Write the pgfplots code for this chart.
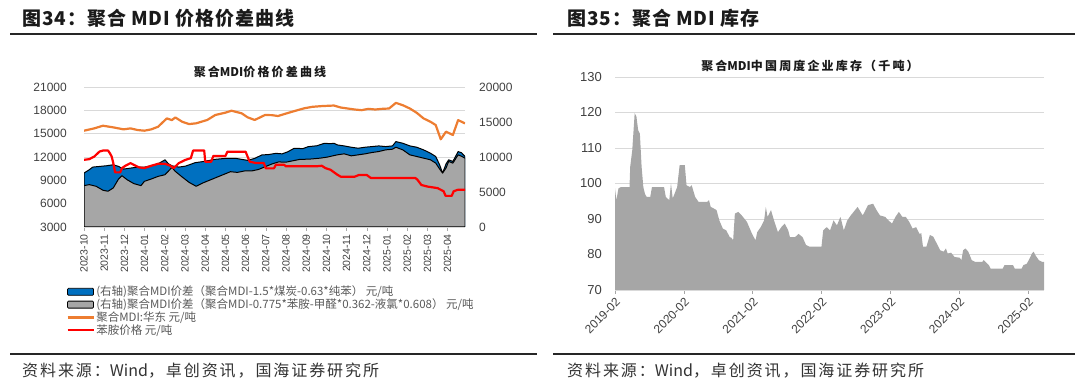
\documentclass[border=0pt]{standalone}
\usepackage{fontspec}
\usepackage{pgfplots}
\pgfplotsset{compat=1.18}
\setmainfont{Liberation Sans}
\newfontfamily\cjk{Noto Sans CJK SC}
\newfontfamily\cjkt[LetterSpace=18]{Noto Sans CJK SC}
\newfontfamily\cjkh[LetterSpace=5]{Noto Sans CJK SC}
\newfontfamily\cjks[LetterSpace=12]{Noto Sans CJK SC}
\definecolor{mblue}{HTML}{0070C0}
\definecolor{mgrey}{HTML}{A6A6A6}
\definecolor{morange}{HTML}{ED7D31}
\definecolor{gridc}{HTML}{D9D9D9}
\definecolor{tickc}{HTML}{404040}
\definecolor{legc}{HTML}{595959}
\definecolor{titc}{HTML}{1A1A1A}
\begin{document}
\begin{tikzpicture}
\path[use as bounding box] (0pt,0pt) rectangle (1080pt,391pt);
% titles and rules
\node[anchor=west, inner sep=0pt, text=titc, font=\cjkh\bfseries\fontsize{19}{19}\selectfont] at (22pt,373pt) {图34：聚合 MDI 价格价差曲线};
\node[anchor=west, inner sep=0pt, text=titc, font=\cjkh\bfseries\fontsize{19}{19}\selectfont] at (567pt,373pt) {图35：聚合 MDI 库存};
\draw[line width=1.8pt, black!85] (10pt,357pt) -- (537pt,357pt);
\draw[line width=1.8pt, black!85] (553pt,357pt) -- (1075pt,357pt);
\draw[line width=1.5pt, black!85] (10pt,37pt) -- (537pt,37pt);
\draw[line width=1.5pt, black!85] (553pt,37pt) -- (1075pt,37pt);
\node[anchor=west, inner sep=0pt, text=black!80, font=\fontsize{16}{16}\selectfont] at (22pt,20.5pt) {{\cjks 资料来源：}{\cjk Wind}{\cjks ，卓创资讯，国海证券研究所}};
\node[anchor=west, inner sep=0pt, text=black!80, font=\fontsize{16}{16}\selectfont] at (567pt,20.5pt) {{\cjks 资料来源：}{\cjk Wind}{\cjks ，卓创资讯，国海证券研究所}};
\node[inner sep=0pt, font=\bfseries\fontsize{12}{12}\selectfont, text=titc] at (260pt,319pt) {{\cjkt 聚合}{\cjk MDI}{\cjkt 价格价差曲线}};
\node[inner sep=0pt, font=\bfseries\fontsize{12}{12}\selectfont, text=titc] at (810pt,325pt) {{\cjkt 聚合}{\cjk MDI}{\cjkt 中国周度企业库存（千吨）}};

% ---------- left chart: base axis (left scale, grid, legend)
\begin{axis}[at={(84pt,164pt)}, anchor=south west, scale only axis,
  width=381pt, height=140pt,
  xmin=0, xmax=18.86, ymin=3000, ymax=21000,
  ytick={3000,6000,...,21000}, scaled y ticks=false,
  xtick={0,...,18},
  xticklabels={2023-10,2023-11,2023-12,2024-01,2024-02,2024-03,2024-04,2024-05,2024-06,2024-07,2024-08,2024-09,2024-10,2024-11,2024-12,2025-01,2025-02,2025-03,2025-04},
  ymajorgrids, grid style={gridc, line width=0.8pt},
  axis x line*=bottom, axis y line*=left,
  y axis line style={draw=none}, x axis line style={gridc, line width=0.8pt, -},
  ytick style={draw=none}, xtick style={color=gray!70, line width=0.6pt},
  tick align=outside, major tick length=4pt,
  /pgf/number format/assume math mode=true, /pgf/number format/1000 sep={},
  yticklabel style={font=\fontsize{12}{12}\selectfont, text=tickc, inner sep=0pt, xshift=-13pt},
  xticklabel style={rotate=90, anchor=east, font=\fontsize{10.5}{10.5}\selectfont, text=tickc, inner sep=3pt},
  legend style={at={(-0.047,-0.41)}, anchor=north west, draw=none, fill=none,
    font=\cjk\fontsize{11.5}{12}\selectfont, text=legc, row sep=-1.5pt, inner sep=0pt,
    nodes={inner sep=1.5pt}},
  legend cell align=left,
]
\addlegendimage{legend image code/.code={\draw[rounded corners=1pt, line width=0.8pt, draw=black, fill=mblue] (0pt,-3.5pt) rectangle (26pt,3.5pt);}}
\addlegendentry{(右轴)聚合MDI价差（聚合MDI-1.5*煤炭-0.63*纯苯） 元/吨}
\addlegendimage{legend image code/.code={\draw[rounded corners=1pt, line width=0.8pt, draw=black, fill=mgrey] (0pt,-3.5pt) rectangle (26pt,3.5pt);}}
\addlegendentry{(右轴)聚合MDI价差（聚合MDI-0.775*苯胺-甲醛*0.362-液氯*0.608） 元/吨}
\addlegendimage{legend image code/.code={\draw[morange, line width=2.5pt] (0pt,0pt) -- (26pt,0pt);}}
\addlegendentry{聚合MDI:华东 元/吨}
\addlegendimage{legend image code/.code={\draw[red, line width=2.5pt] (0pt,0pt) -- (26pt,0pt);}}
\addlegendentry{苯胺价格 元/吨}
\end{axis}

% ---------- left chart: right-scale areas
\begin{axis}[at={(84pt,164pt)}, anchor=south west, scale only axis,
  width=381pt, height=140pt,
  xmin=0, xmax=18.86, ymin=0, ymax=20000,
  ytick={0,5000,...,20000}, scaled y ticks=false,
  axis y line*=right, axis x line=none,
  y axis line style={draw=none}, ytick style={draw=none},
  /pgf/number format/assume math mode=true, /pgf/number format/1000 sep={},
  yticklabel style={font=\fontsize{12}{12}\selectfont, text=tickc, inner sep=0pt, anchor=west, xshift=14pt},
]
\addplot[fill=mblue, draw=black, line width=1pt, line join=round] coordinates {
(0,7707) (0.26,8180) (0.43,8558) (0.77,8653) (1.11,8747) (1.45,8889) (1.71,8653) (1.96,8274)
(2.30,8416) (2.65,8558) (2.99,8558) (3.33,8747) (3.67,9031) (4.01,9598) (4.18,9031) (4.35,8747)
(4.69,8558) (5.03,8700) (5.50,9190) (5.90,9350) (6.50,9670) (7.00,9800) (7.50,9810) (8.10,9520)
(8.45,9800) (8.80,10290) (9.13,10350) (9.50,10520) (9.81,10450) (10.10,10760) (10.40,11240)
(10.84,11200) (11.10,11480) (11.52,11600) (11.90,11960) (12.20,11900) (12.37,11962) (12.54,11726)
(12.88,11584) (13.23,11395) (13.57,11253) (13.91,11395) (14.25,11489) (14.59,11584) (14.93,11489)
(15.27,11584) (15.44,12199) (15.78,11962) (16.13,11584) (16.47,11395) (16.81,11017) (17.15,10544)
(17.41,10071) (17.60,8900) (17.75,7700) (17.92,9000) (18.05,9598) (18.26,9362) (18.52,10780)
(18.69,10600) (18.86,10071)
} \closedcycle;
\addplot[fill=mgrey, draw=black, line width=1pt, line join=round] coordinates {
(0,5911) (0.26,6052) (0.60,5816) (0.94,5249) (1.19,5107) (1.45,5580) (1.71,6856) (1.88,7329)
(2.13,6762) (2.47,6194) (2.82,5911) (2.99,6525) (3.33,6856) (3.67,7234) (4.01,7470) (4.35,8500)
(4.52,7943) (4.86,7140) (5.20,6383) (5.55,5816) (5.89,6300) (6.23,6700) (6.57,7100) (6.91,7500)
(7.25,7900) (7.59,7800) (7.94,8000) (8.28,8000) (8.62,8200) (8.96,8600) (9.30,9000) (9.64,9300)
(9.98,9250) (10.32,9450) (10.67,9650) (11.18,9700) (11.69,9835) (12.03,9977) (12.54,10308)
(12.88,10449) (13.23,10166) (13.57,10308) (13.91,10449) (14.25,10638) (14.59,10780) (14.93,11017)
(15.27,11111) (15.44,11395) (15.78,11017) (16.13,10308) (16.47,10071) (16.81,9835) (17.15,9598)
(17.41,9126) (17.60,8300) (17.75,7700) (17.92,8416) (18.05,9362) (18.26,9126) (18.52,10308)
(18.69,10100) (18.86,9835)
} \closedcycle;
\end{axis}

% ---------- left chart: left-scale lines
\begin{axis}[at={(84pt,164pt)}, anchor=south west, scale only axis,
  width=381pt, height=140pt,
  xmin=0, xmax=18.86, ymin=3000, ymax=21000, hide axis]
\addplot[morange, line width=2.2pt, line join=round] coordinates {
(0,15383) (0.51,15681) (0.94,16022) (1.45,15809) (1.96,15554) (2.30,15681) (2.65,15468) (2.99,15383)
(3.33,15554) (3.67,15894) (3.84,16320) (4.10,16958) (4.35,16745) (4.52,17085) (4.86,16532) (5.20,16234)
(5.55,16330) (6.10,16760) (6.50,17400) (7.00,17700) (7.30,17950) (7.80,17620) (8.10,17100) (8.45,16760)
(8.96,17400) (9.30,17380) (9.60,17270) (10.30,17820) (10.90,18260) (11.30,18450) (11.80,18550)
(12.37,18617) (12.71,18362) (13.05,18234) (13.40,18106) (13.74,18021) (14.08,18191) (14.42,18106)
(14.76,18191) (15.10,18234) (15.44,18958) (15.78,18660) (16.13,18234) (16.47,17681) (16.81,16958)
(17.15,16532) (17.41,16107) (17.66,14277) (17.92,15256) (18.26,14830) (18.52,16745) (18.69,16532)
(18.86,16320)
};
\addplot[red, line width=2.2pt, line join=round] coordinates {
(0,11640) (0.26,11720) (0.51,12064) (0.77,12703) (0.94,12830) (1.19,12830) (1.28,12490) (1.37,12064)
(1.45,11213) (1.54,10022) (1.79,10022) (1.88,10575) (2.05,10873) (2.30,11213) (2.56,10873) (2.73,10660)
(2.99,10575) (3.33,10873) (3.67,11128) (4.01,11128) (4.27,10873) (4.44,10575) (4.69,11213) (5.03,11640)
(5.29,11852) (5.40,12830) (5.95,12830) (6.00,11400) (6.30,11400) (6.40,12130) (7.00,12130) (7.10,12680)
(8.00,12680) (8.20,11400) (8.50,11230) (8.90,11230) (9.00,10540) (9.40,10540) (9.50,11000) (9.90,11000)
(10.00,10800) (11.50,10800) (11.77,10873) (11.95,10575) (12.20,10362) (12.54,9724) (12.71,9470)
(13.40,9470) (13.60,9680) (14.00,9680) (14.20,9300) (15.30,9300) (16.40,9300) (16.50,9100) (16.70,8400)
(17.00,8200) (17.50,8000) (17.80,7600) (17.90,7000) (18.20,7000) (18.30,7600) (18.50,7780) (18.86,7780)
};
\end{axis}

% ---------- right chart
\begin{axis}[at={(615pt,101pt)}, anchor=south west, scale only axis,
  width=429pt, height=213pt,
  xmin=0, xmax=74.8, ymin=70, ymax=130,
  ytick={70,80,...,130},
  xtick={0,12,...,72},
  xticklabels={2019-02,2020-02,2021-02,2022-02,2023-02,2024-02,2025-02},
  ymajorgrids, grid style={gridc, line width=0.8pt},
  axis x line*=bottom, axis y line*=left,
  y axis line style={draw=none}, x axis line style={gridc, line width=0.8pt, -},
  ytick style={draw=none}, xtick style={color=gray!70, line width=0.6pt},
  tick align=outside, major tick length=4pt,
  /pgf/number format/assume math mode=true,
  yticklabel style={font=\fontsize{13}{13}\selectfont, text=tickc, inner sep=0pt, xshift=-9pt},
  xticklabel style={rotate=45, anchor=north east, font=\fontsize{12}{12}\selectfont, text=tickc, inner sep=2pt},
]
\addplot[fill=mgrey, draw=none] coordinates {
(0,98.6) (0.24,95.3) (0.6,98.6) (1.02,99) (2.53,99) (2.65,104.7) (3.01,109.4) (3.43,119.8) (3.73,118.9)
(4.04,115) (4.34,114) (4.64,104.7) (4.94,99) (5.24,97) (5.54,96.2) (6.14,96.2) (6.45,99) (6.75,99)
(8.55,99) (8.86,96.2) (9.46,95.3) (9.76,100) (10.06,95.8) (10.36,97) (10.84,99) (11.27,105.2)
(12.17,105.2) (12.47,99.5) (13.07,99) (13.37,99.5) (13.98,96.2) (14.58,94.8) (16.08,94.8) (16.39,95.3)
(16.69,93.4) (17.29,92.9) (17.71,92.5) (18.19,89.6) (18.8,87.3) (19.4,86.8) (20.0,84.9) (20.3,84.7)
(20.6,84) (20.9,91.5) (21.5,92) (22.1,91) (23.0,89.2) (23.9,85.8) (24.5,84) (24.8,86.3) (25.4,87.7)
(26.0,89.6) (26.3,93.4) (26.6,90.6) (27.2,92.5) (27.8,89.2) (28.4,86.3) (29.0,87.7) (29.6,88.7)
(30.2,86.8) (30.5,84.9) (31.4,84.9) (32.0,85.8) (32.7,84.9) (33.3,82.7) (33.9,82.2) (36.0,82.2)
(36.3,86.8) (36.9,87.7) (37.5,86.8) (38.1,89.6) (38.7,88.2) (39.3,90.6) (39.9,86.8) (40.5,89.6)
(41.1,91) (42.3,93.4) (43.2,91) (44.1,93.9) (45.0,94.3) (45.6,92.5) (46.2,91) (47.1,90.6) (47.7,89.6)
(48.3,88.7) (48.9,90.6) (49.5,92) (50.1,90.6) (50.7,90.6) (51.3,89.2) (51.9,87.3) (52.5,87.7)
(53.1,85.8) (53.4,86) (53.7,82.2) (54.3,82.2) (54.9,85.5) (55.5,85) (56.1,83.1) (56.7,81.2) (57.3,80.8)
(57.7,81.7) (58.0,80.3) (58.6,80.5) (59.2,79.3) (60.1,79.1) (60.4,78.4) (60.7,81.2) (61.1,81.7)
(61.6,80.8) (62.2,78.4) (62.8,77.9) (64.0,77.9) (64.3,78.4) (64.9,77.4) (65.2,77) (65.5,76) (67.6,76)
(67.9,77) (69.4,77) (69.7,76) (70.9,76) (71.2,77) (71.8,77.4) (72.3,78.9) (72.7,80.3) (73.0,80.8)
(73.3,79.8) (73.9,78.4) (74.5,77.9) (74.8,77.9)
} \closedcycle;
\end{axis}
\end{tikzpicture}
\end{document}
